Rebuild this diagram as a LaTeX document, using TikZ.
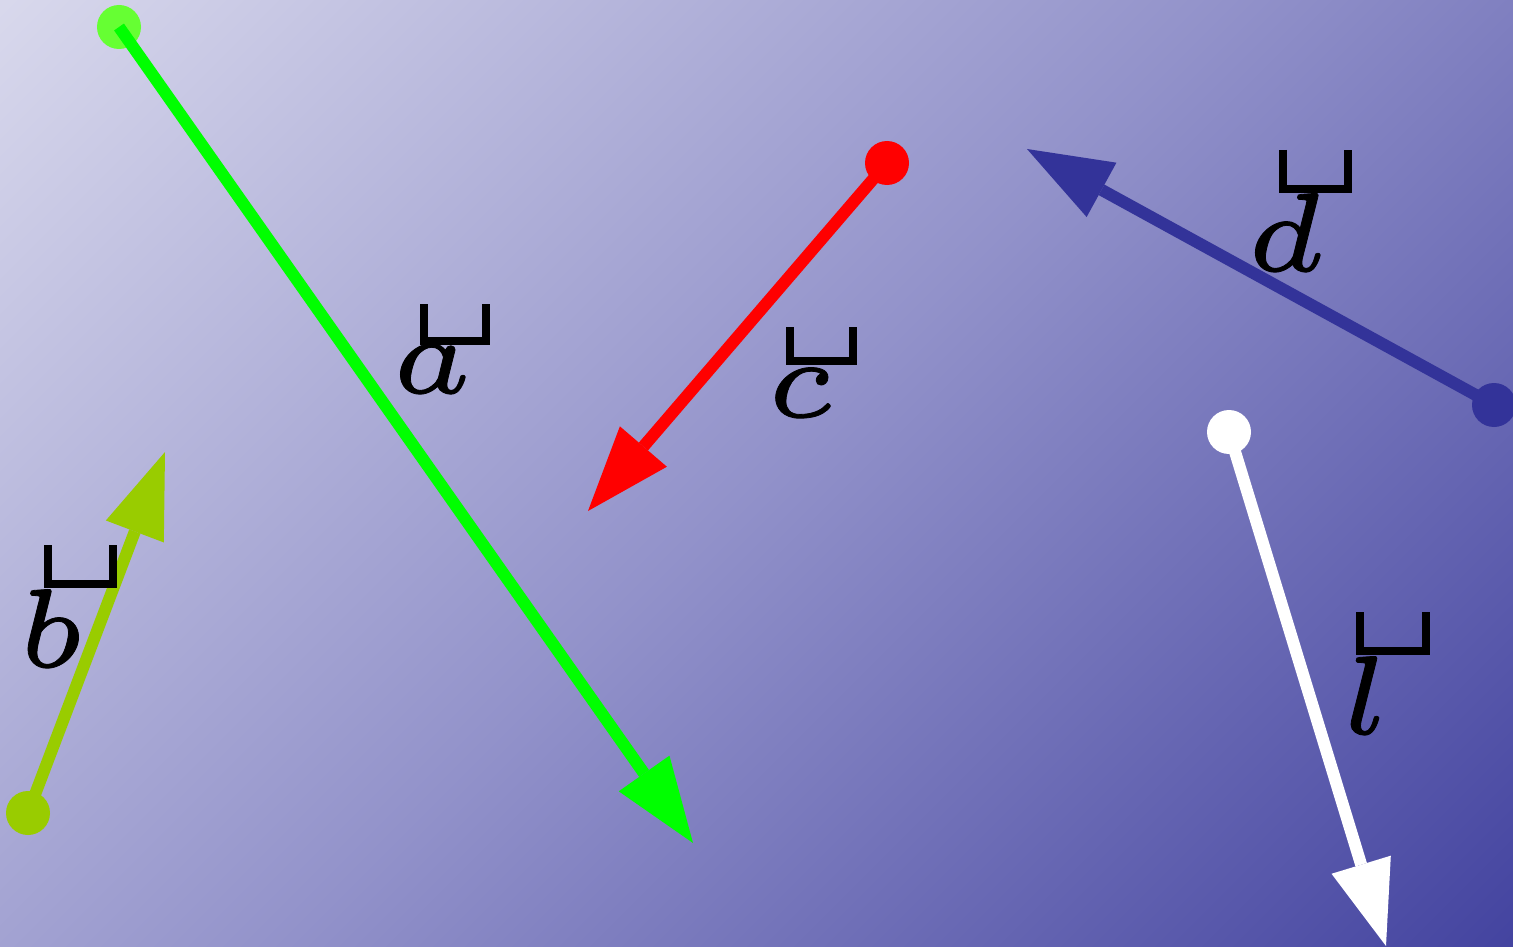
\documentclass[tikz,border=0pt]{standalone}
\DeclareFontShape{OML}{cmm}{m}{it}{<->cmmi5}{}
\usetikzlibrary{arrows.meta}
\definecolor{bglight}{RGB}{216,216,236}
\definecolor{bgmid}{RGB}{146,146,202}
\definecolor{bgdark}{RGB}{68,68,160}
\definecolor{agreen}{RGB}{0,255,0}
\definecolor{adot}{RGB}{102,255,51}
\definecolor{bgreen}{RGB}{153,204,0}
\definecolor{dblue}{RGB}{51,51,153}
\pgfdeclarehorizontalshading{bgshade}{100bp}{color(0bp)=(bglight); color(28.26bp)=(bglight); color(50bp)=(bgmid); color(71.74bp)=(bgdark); color(100bp)=(bgdark)}
\newcommand{\heavy}[1]{\special{pdf:literal direct 2 Tr 0.8 w}#1\special{pdf:literal direct 0 Tr}}
\tikzset{
  vec/.style={line width=12pt, -{Triangle[length=85pt,width=62pt,line width=0pt]}},
  dot/.style={circle, inner sep=0pt, minimum size=44pt, fill=#1},
  lbl/.style={anchor=base, inner sep=0pt, font=\fontsize{112}{112}\selectfont},
  cup/.style={line width=8pt, miter limit=10}
}
\begin{document}
\begin{tikzpicture}[x=1pt,y=-1pt]
\useasboundingbox (0,0) rectangle (1513,947);
\begin{scope}
\clip (0,0) rectangle (1513,947);
\shade[shading=bgshade, shading angle=-45] (-243.5,-526.5) rectangle (1756.5,1473.5);
\end{scope}
% a
\node[dot=adot] (da) at (119,27) {};
\coordinate (ta) at (693,843);
\draw[vec, draw=agreen, fill=agreen] (da.center) -- (ta);
% b
\node[dot=bgreen] (db) at (28,813) {};
\coordinate (tb) at (165,452);
\draw[vec, draw=bgreen, fill=bgreen] (db.center) -- (tb);
% c
\node[dot=red] (dc) at (887,163) {};
\coordinate (tc) at (588,511);
\draw[vec, draw=red, fill=red] (dc.center) -- (tc);
% d
\node[dot=dblue] (dd) at (1494,405) {};
\coordinate (td) at (1027,149);
\draw[vec, draw=dblue, fill=dblue] (dd.center) -- (td);
% l
\node[dot=white] (dl) at (1229,432) {};
\coordinate (tl) at (1386,946);
\draw[vec, draw=white, fill=white] (dl.center) -- (tl);
% labels
\node[lbl] (la) at (432,393) {\heavy{$a$}};
\draw[cup] (423.5,304) -- (423.5,341) -- (486,341) -- (486,304);
\node[lbl] (lb) at (51,667) {\heavy{$b$}};
\draw[cup] (47.5,545) -- (47.5,584) -- (112.5,584) -- (112.5,545);
\node[lbl] (lc) at (800,417) {\heavy{$c$}};
\draw[cup] (790,327) -- (790,361) -- (853,361) -- (853,327);
\node[lbl] (ld) at (1285,271) {\heavy{$d$}};
\draw[cup] (1283,150) -- (1283,189) -- (1347.5,189) -- (1347.5,150);
\node[lbl] (ll) at (1366,734) {\heavy{$l$}};
\draw[cup] (1360,612) -- (1360,651) -- (1426,651) -- (1426,612);
\end{tikzpicture}
\end{document}
